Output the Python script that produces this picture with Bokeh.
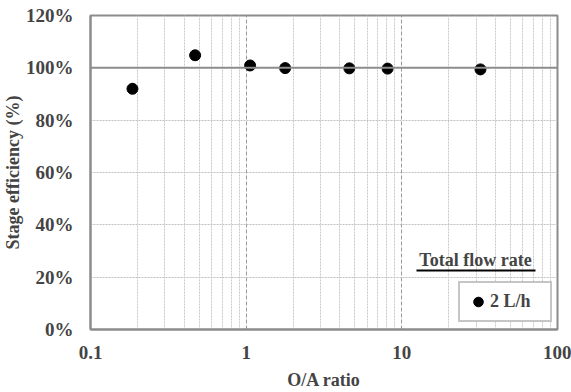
from bokeh.plotting import figure
from bokeh.models import (Span, Legend, LegendItem, Label, BoxAnnotation,
                          NumeralTickFormatter, FixedTicker, Title,
                          CustomJSTickFormatter)
from bokeh.embed import file_html
from bokeh.resources import INLINE

oa_ratio = [0.186, 0.47, 1.06, 1.78, 4.6, 8.1, 32.0]
efficiency = [0.920, 1.048, 1.009, 0.999, 0.998, 0.997, 0.994]
series_name = "2 L/h"
legend_title = "Total flow rate"
x_title = "O/A ratio"
y_title = "Stage efficiency (%)"
y_ticks = [0, 0.2, 0.4, 0.6, 0.8, 1.0, 1.2]
x_ticks = [0.1, 1, 10, 100]
x_minor = [m * d for d in (0.1, 1, 10) for m in range(2, 10)]

FONT = "Liberation Serif"

p = figure(width=571, height=392, x_axis_type="log", x_range=(0.1, 100),
           y_range=(0, 1.2), output_backend="svg", toolbar_location=None,
           min_border_left=89, min_border_right=14, min_border_top=15,
           min_border_bottom=63)

p.outline_line_color = "#8c8c8c"
p.outline_line_width = 2

for ax in (p.xaxis[0], p.yaxis[0]):
    ax.axis_line_color = "#8c8c8c"
    ax.axis_line_width = 2
    ax.major_tick_line_color = None
    ax.minor_tick_line_color = None
    ax.major_tick_out = 0
    ax.minor_tick_out = 0
    ax.major_label_text_font = FONT
    ax.major_label_text_font_style = "bold"
    ax.major_label_text_font_size = "19px"
    ax.axis_label_text_font = FONT
    ax.axis_label_text_font_style = "bold"
    ax.axis_label_text_font_size = "18px"

p.xaxis.ticker = FixedTicker(ticks=x_ticks, minor_ticks=x_minor)
p.xaxis.formatter = CustomJSTickFormatter(code="return String(tick);")
p.xaxis.major_label_standoff = 16
p.xaxis.axis_label = x_title
p.xaxis.axis_label_standoff = 8
p.yaxis.ticker = FixedTicker(ticks=y_ticks)
p.yaxis.formatter = NumeralTickFormatter(format="0%")
p.yaxis.major_label_standoff = 17
p.yaxis.axis_label_standoff = 0

p.add_layout(Title(text=y_title, align="center", text_font=FONT,
                   text_font_style="bold", text_font_size="18px",
                   offset=0, standoff=0), "left")

p.xgrid.grid_line_color = "#9a9a9a"
p.xgrid.grid_line_dash = "4 2"
p.xgrid.grid_line_width = 1
p.xgrid.minor_grid_line_color = "#c8c8c8"
p.xgrid.minor_grid_line_dash = "2 1"
p.ygrid.grid_line_color = "#c0c0c0"
p.ygrid.grid_line_dash = "2 1"

p.add_layout(Span(location=1.0, dimension="width", line_color="#8c8c8c",
                  line_width=2))

r = p.scatter(oa_ratio, efficiency, size=11, color="black")

legend = Legend(items=[LegendItem(label=series_name, renderers=[r])],
                location=(368, 7), border_line_color="#8c8c8c",
                border_line_width=2, padding=6, margin=0,
                label_text_font=FONT, label_text_font_style="bold",
                label_text_font_size="18px", glyph_width=24, glyph_height=25,
                label_standoff=0, label_width=54, background_fill_alpha=1)
p.add_layout(legend)

p.add_layout(Label(x=385, y=70, x_units="screen", y_units="screen",
                   text=legend_title, text_font=FONT, text_font_style="bold",
                   text_font_size="18px", text_align="center",
                   text_baseline="alphabetic"))
p.add_layout(BoxAnnotation(left=326, right=445, bottom=58, top=60,
                           left_units="screen", right_units="screen",
                           bottom_units="screen", top_units="screen",
                           fill_color="black", fill_alpha=1,
                           line_color=None))

out = file_html(p, INLINE)
open("out.html", "w").write(out)
